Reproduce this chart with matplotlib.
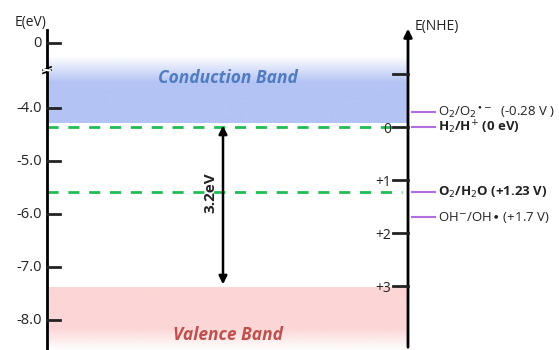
"""
Band diagram with vacuum scale (eV) and NHE scale
"""
import numpy as np
import matplotlib.pyplot as plt
from matplotlib.colors import to_rgb

plt.rcParams['font.family'] = ['Open Sans', 'DejaVu Sans']

# energies (eV vs vacuum)
ev_ticks = [-4.0, -5.0, -6.0, -7.0, -8.0]
ev_tick_labels = ['-4.0', '-5.0', '-6.0', '-7.0', '-8.0']
zero_pos = -2.774      # where the broken "0" tick sits
break_pos = -3.245
cb_edge = -4.28
vb_edge = -7.38
gap_label = '3.2eV'

# NHE scale
nhe_zero = -4.36       # E(vac) of 0 V vs NHE
nhe_ticks = [-1, 0, 1, 2, 3]
nhe_tick_labels = ['', '0', '+1', '+2', '+3']

# redox couples (V vs NHE)
redox_pot = [-0.28, 0.0, 1.23, 1.7]
redox_labels = [r'O$_2$/O$_2$$^{\bullet-}$  (-0.28 V )',
                r'H$_2$/H$^{+}$ (0 eV)',
                r'O$_2$/H$_2$O (+1.23 V)',
                r'OH$^{-}$/OH$\bullet$ (+1.7 V)']
redox_bold = [False, True, True, False]
dashed_pot = [0.0, 1.23]


def nhe_to_ev(v):
    return nhe_zero - np.asarray(v)


def gradient_band(ax, x0, x1, y_lo, y_hi, color, alpha):
    rgba = np.zeros((len(alpha), 1, 4))
    rgba[:, 0, :3] = to_rgb(color)
    rgba[:, 0, 3] = alpha
    ax.imshow(rgba, extent=[x0, x1, y_lo, y_hi], origin='lower',
              aspect='auto', interpolation='bilinear', zorder=0)


fig = plt.figure(figsize=(5.59, 3.5), dpi=100)
ax = fig.add_axes([0, 0, 1, 1])
ax.set_xlim(0, 559)
ax.set_ylim(-8.566, -1.962)
ax.axis('off')

xl, xr = 47, 408

# bands
a = np.concatenate([np.ones(60), np.linspace(1, 0, 40)])
gradient_band(ax, xl, xr, cb_edge, -3.02, '#b3c3f4', a)
a = np.concatenate([np.linspace(0, 1, 35), np.ones(65)])
gradient_band(ax, xl, xr, -8.566, vb_edge, '#fcd6d6', a)
ax.text(228, -3.43, 'Conduction Band', ha='center', va='center', fontsize=12.5,
        fontweight='bold', style='italic', color='#4f7cc0')
ax.text(228, -8.28, 'Valence Band', ha='center', va='center', fontsize=12.5,
        fontweight='bold', style='italic', color='#c0504d')

# left axis
ax.plot([xl, xl], [-8.566, -2.53], color='black', lw=2, zorder=3)
ax.plot([xl - 4, xl + 4], [break_pos - 0.04, break_pos + 0.02], color='black', lw=1.2, zorder=4)
ax.plot([xl - 4, xl + 4], [break_pos - 0.10, break_pos - 0.04], color='black', lw=1.2, zorder=4)
ax.plot([xl - 3, xl + 3], [break_pos - 0.03, break_pos - 0.05], color='white', lw=1.5, zorder=4)
for t, lab in zip(ev_ticks + [zero_pos], ev_tick_labels + ['0']):
    ax.plot([xl, xl + 13], [t, t], color='#222222', lw=2, zorder=3)
    ax.text(xl - 5, t, lab, ha='right', va='center', fontsize=10.5, color='#222222')
ax.text(31, -2.38, 'E(eV)', ha='center', va='center', fontsize=10, color='#222222')

# right axis
ax.annotate('', xy=(xr, -2.45), xytext=(xr, -8.566),
            arrowprops=dict(arrowstyle='-|>', color='black', lw=2, mutation_scale=12),
            zorder=3)
ax.text(xr + 7, -2.47, 'E(NHE)', ha='left', va='center', fontsize=10, color='#222222')
for v, lab in zip(nhe_ticks, nhe_tick_labels):
    e = nhe_to_ev(v)
    ax.plot([xr - 15, xr], [e, e], color='#222222', lw=2, zorder=3)
    ax.text(xr - 17, e, lab, ha='right', va='center_baseline',
            fontsize=10, color='#222222')

# dashed levels
for v in dashed_pot:
    e = nhe_to_ev(v)
    ax.plot([xl, xr - 6], [e, e], color='#22bb55', lw=2, ls=(0, (4, 3.5)), zorder=2)

# redox couples
for v, lab, b in zip(redox_pot, redox_labels, redox_bold):
    e = nhe_to_ev(v)
    ax.plot([xr + 4, xr + 27], [e, e], color='#b36be0', lw=1.5, zorder=3)
    ax.text(xr + 30, e, lab, ha='left', va='center', fontsize=9.5,
            fontweight='bold' if b else 'normal', color='#222222')

# band gap arrow
ax.annotate('', xy=(223, cb_edge), xytext=(223, vb_edge),
            arrowprops=dict(arrowstyle='<|-|>', color='black', lw=1.8, mutation_scale=12),
            zorder=3)
ax.text(210, -5.6, gap_label, rotation=90, ha='center', va='center',
        fontsize=11, fontweight='bold', color='#222222')

fig.savefig('out.png', dpi=100)
